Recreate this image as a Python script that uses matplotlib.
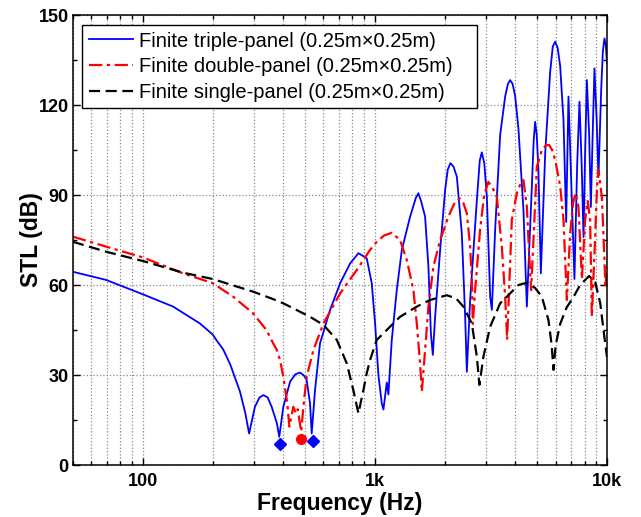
import matplotlib
matplotlib.use("Agg")
import matplotlib.pyplot as plt
from matplotlib.ticker import FixedLocator, NullFormatter, FixedFormatter
import numpy as np

plt.rcParams['font.family'] = ['Liberation Sans', 'DejaVu Sans']

# Finite triple-panel
f_triple = [50, 69.4, 100, 135, 176, 200, 208, 222, 238, 262, 276, 287,
            304, 318, 331, 345, 359, 378, 387, 403, 431, 455, 476, 495, 508, 525, 534,
            552, 580, 641, 708, 782, 849, 922, 969, 1002, 1035, 1070, 1088, 1125, 1143,
            1182, 1242, 1306, 1418, 1500, 1539, 1580, 1645, 1700, 1742, 1776, 1817, 1910,
            2007, 2060, 2115, 2180, 2254, 2368, 2448, 2489, 2572, 2749, 2830, 2888, 2960,
            3036, 3137, 3190, 3296, 3464, 3640, 3740, 3825, 3920, 4020, 4154, 4365, 4514,
            4744, 4830, 4902, 4980, 5065, 5187, 5416, 5689, 5840, 5979, 6130, 6283, 6494,
            6669, 6823, 7008, 7240, 7437, 7610, 7778, 7920, 8052, 8189, 8377, 8520, 8673,
            8831, 9026, 9188, 9438, 9600, 9752, 9880, 10000]
stl_triple = [64.4, 61.7, 56.9, 52.8, 47.2, 43.5, 41.5, 38.5, 33.5, 24.5, 17.5, 10.5,
              19.4, 22.5, 23.3, 22.5, 19.4, 13.9, 9.4, 19.4, 27.8, 30.3, 30.8, 29.8, 28.3, 20.6, 10.5,
              25, 40.6, 51.7, 60.6, 67.2, 70.6, 68.9, 60.6, 47, 30, 20.6, 18.5, 27.5, 23.5,
              41.7, 58.3, 71.7, 82.8, 89.0, 90.6, 88.0, 82.8, 66.1, 43.9, 36.7, 49.4, 71.7,
              91.7, 98.5, 100.6, 99.5, 96.1, 77.2, 49.4, 31.1, 55, 88.3, 101.5, 104.2, 100.5,
              89.4, 56.1, 51.7, 78.3, 110, 122.8, 127.0, 128.3, 127.0, 123, 112, 85, 52.8,
              92.8, 108, 114.4, 110, 98.3, 63.9, 103.9, 131, 139.5, 141.1, 139, 133, 115,
              81, 122.8, 95, 62, 100, 121.1, 100, 76, 105, 128.3, 110, 86, 110,
              132.2, 115, 96, 125, 138, 142.2, 140, 134]

# Finite double-panel
f_double = [50, 69.4, 100, 149, 200, 245, 298, 341, 364, 378, 390, 403, 419, 428,
            445, 457, 465, 481, 495, 508, 543, 600, 708, 835, 953, 1018, 1095, 1182,
            1283, 1372, 1465, 1515, 1565, 1592, 1645, 1700, 1786, 1910, 2073, 2193, 2313,
            2400, 2489, 2572, 2615, 2641, 2703, 2838, 2955, 3083, 3231, 3351, 3522, 3640,
            3713, 3889, 4088, 4250, 4365, 4514, 4618, 4710, 4985, 5239, 5450, 5630, 5800,
            5979, 6283, 6494, 6715, 6938, 7150, 7324, 7534, 7795, 8052, 8254, 8460, 8605,
            8891, 9050, 9188, 9502, 9726, 9851, 10000]
stl_double = [76.1, 72.8, 69.2, 63.9, 60.6, 56.1, 50.6, 45, 40.6, 38.3, 35, 29.4, 20.6, 12.8,
              19.4, 17.2, 18.6, 11.1, 21.7, 29.4, 38.3, 47.2, 57.2, 65, 71.7, 74.4, 76.5, 77.4,
              75, 68.3, 58.3, 47.2, 33.9, 24.4, 38.3, 52.8, 66.1, 75, 82.8, 87, 88.9,
              87.5, 83.9, 72.8, 61.7, 47, 58.3, 78.3, 90, 94.4, 92, 89.4, 72.8, 56.1,
              41.7, 81.7, 90.6, 94, 95, 86.1, 70.6, 58.3, 99.4, 105, 106.5, 106.7, 105,
              101.7, 93, 81.7, 55, 77.2, 87.5, 90.6, 86, 62, 81.7, 88, 81.7, 49.4,
              76.1, 92, 98.3, 89.4, 70.6, 59, 66]

# Finite single-panel
f_single = [50, 69.4, 100, 149, 200, 298, 364, 403, 525, 600, 685, 756, 807, 849,
            892, 922, 953, 1018, 1053, 1201, 1283, 1515, 1729, 2040, 2238, 2405, 2615,
            2749, 2820, 2934, 3137, 3464, 3825, 4154, 4528, 4902, 5239, 5594, 5775, 5880,
            6010, 6283, 6700, 7170, 7661, 8377, 8891, 9348, 9659, 10000]
stl_single = [74.4, 71.1, 68, 64.1, 62, 57.8, 55.3, 53.9, 49.4, 46.7, 41.7, 33.9, 25, 17.2,
              25, 30.6, 35, 41.7, 42.8, 47.2, 49.4, 52.8, 55, 56.6, 55.5, 52.8, 47.2,
              36.1, 26.7, 36.1, 46.1, 53.9, 57.2, 60, 60.8, 59, 56.1, 48.3, 40, 31.7,
              40, 47, 52.5, 56, 60, 63, 61, 54, 45, 36]

# marked resonance frequencies
f_diamond = [390, 540]
stl_diamond = [7.0, 8.0]
f_circle = [481]
stl_circle = [8.8]

fig = plt.figure(figsize=(6.41, 5.17), dpi=100)
ax = fig.add_axes([73 / 641, 1 - 465 / 517, 534 / 641, 450 / 517])

ax.plot(f_triple, stl_triple, '-', color='#0000ff', lw=1.3,
        label='Finite triple-panel (0.25m\u00d70.25m)')
ax.plot(f_double, stl_double, '-.', color='#ff0000', lw=1.6, dashes=(6, 2, 1.5, 2),
        label='Finite double-panel (0.25m\u00d70.25m)')
ax.plot(f_single, stl_single, '--', color='black', lw=1.6, dashes=(5, 2.5),
        label='Finite single-panel (0.25m\u00d70.25m)')
ax.plot(f_diamond, stl_diamond, 'D', color='#0000ff', ms=6, clip_on=False)
ax.plot(f_circle, stl_circle, 'o', color='#ff0000', ms=7, clip_on=False)

ax.set_xscale('log')
ax.set_xlim(50, 10000)
ax.set_ylim(0, 150)

ax.xaxis.set_major_locator(FixedLocator([100, 1000, 10000]))
ax.xaxis.set_major_formatter(FixedFormatter(['100', '1k', '10k']))
minor_x = [m * d for d in (10, 100, 1000) for m in range(2, 10) if 50 <= m * d <= 10000]
ax.xaxis.set_minor_locator(FixedLocator(minor_x))
ax.xaxis.set_minor_formatter(NullFormatter())
ax.set_yticks([0, 30, 60, 90, 120, 150])
ax.set_yticks([15, 45, 75, 105, 135], minor=True)

ax.grid(True, which='major', axis='both', ls=':', color='#888888', lw=0.9)
ax.grid(True, which='minor', axis='x', ls=':', color='#888888', lw=0.9)

ax.tick_params(which='both', direction='in', top=True, right=True, width=1)
ax.tick_params(which='major', length=5, labelsize=13)
ax.tick_params(axis='y', which='major', pad=3)
ax.tick_params(axis='x', which='major', pad=6)
ax.tick_params(which='minor', length=3)
for lab in ax.get_xticklabels() + ax.get_yticklabels():
    lab.set_fontweight('bold')
for s in ax.spines.values():
    s.set_linewidth(1.1)

ax.set_xlabel('Frequency (Hz)', fontsize=16.5, fontweight='bold', labelpad=1)
ax.set_ylabel('STL (dB)', fontsize=16.5, fontweight='bold', labelpad=-3)

leg = ax.legend(loc='upper left', bbox_to_anchor=(0.017, 0.978, 0.74, 0.0), mode='expand',
                borderaxespad=0, fontsize=14.5, handlelength=2.2, fancybox=False,
                framealpha=1, edgecolor='black', borderpad=0.33, labelspacing=0.33,
                handletextpad=0.3)
leg.get_frame().set_linewidth(1.0)

fig.savefig('out.png', dpi=100)
